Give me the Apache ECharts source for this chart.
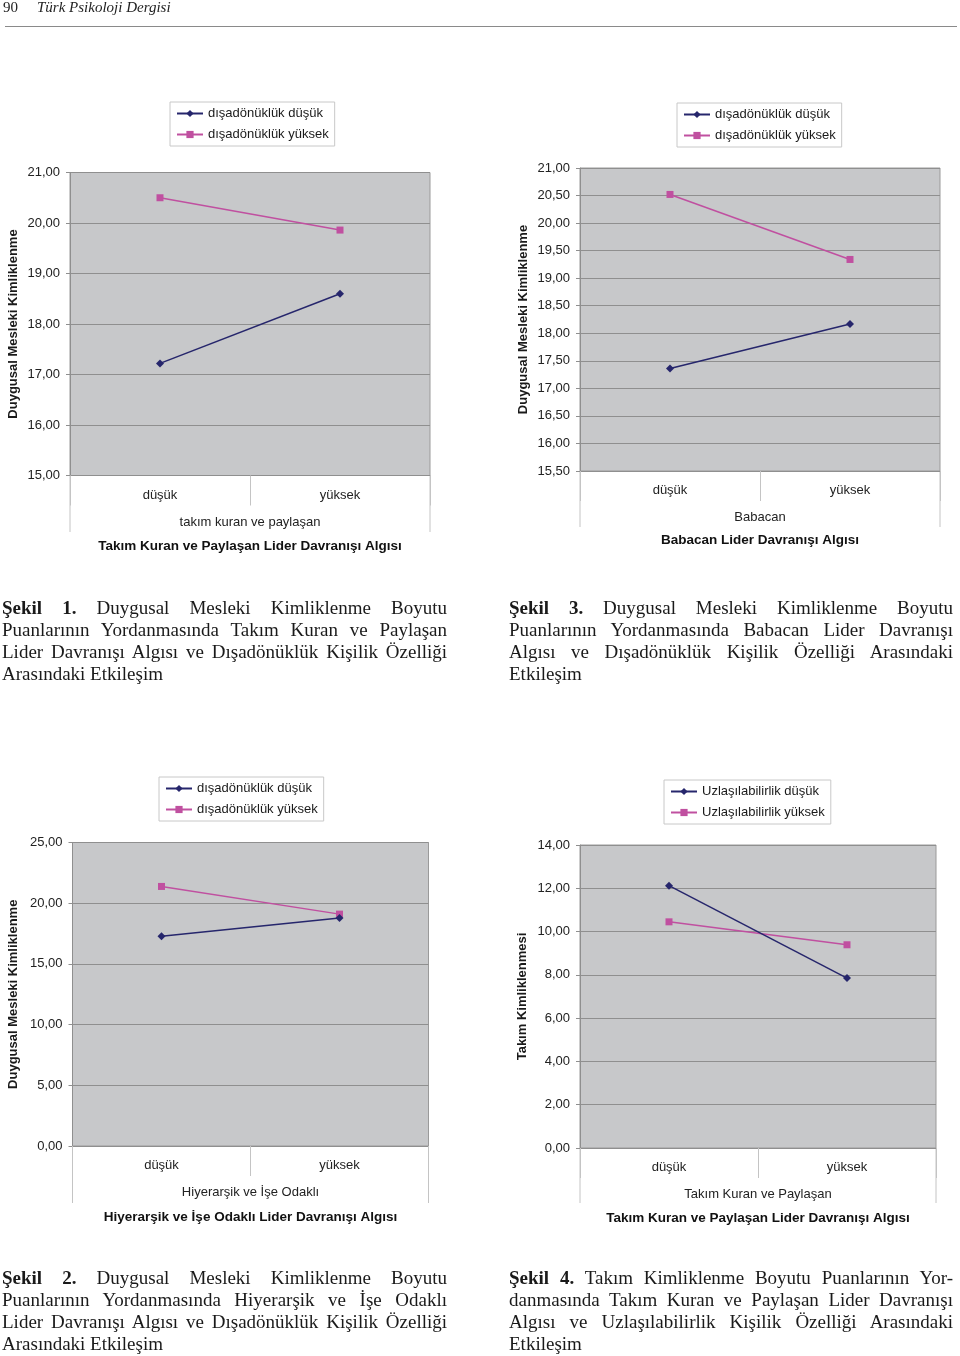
<!DOCTYPE html>
<html>
<head>
<meta charset="utf-8">
<script src="https://cdn.jsdelivr.net/npm/echarts@6/dist/echarts.min.js"></script>
<style>
  html, body { margin: 0; padding: 0; background: #fff; }
  #page { position: relative; width: 960px; height: 1356px; overflow: hidden; }
  #chart { position: absolute; left: 0; top: 0; width: 960px; height: 1356px; }
  .hdr { position: absolute; font-family: "Liberation Serif", "Times New Roman", serif; font-size: 15px; color: #222; top: -1px; }
  .rule { position: absolute; left: 5px; top: 26px; width: 952px; height: 0; border-top: 1.5px solid #8a8a8a; }
  .cap { position: absolute; font-family: "Liberation Serif", "Times New Roman", serif; font-size: 19px; color: #1a1a1a; line-height: 22px; }
  .cap .ln { position: relative; height: 22px; white-space: nowrap; }
  .cap .ln span.t { display: inline-block; white-space: nowrap; transform-origin: 0 50%; }
</style>
</head>
<body>
<div id="page">
  <div id="chart"></div>
  <div class="hdr" style="left:3px">90</div>
  <div class="hdr" style="left:37px;font-style:italic">Türk Psikoloji Dergisi</div>
  <div class="rule"></div>
  <div class="cap" id="cap1" style="left:2px;top:597px;width:445px"></div>
  <div class="cap" id="cap3" style="left:509px;top:597px;width:444px"></div>
  <div class="cap" id="cap2" style="left:2px;top:1267px;width:445px"></div>
  <div class="cap" id="cap4" style="left:509px;top:1267px;width:444px"></div>
</div>
<script>
// ---------- data ----------
const categories = ['düşük', 'yüksek'];

const fig1Names = ['dışadönüklük düşük', 'dışadönüklük yüksek'];
const fig1Low  = [17.22, 18.60];
const fig1High = [20.50, 19.86];
const fig1Y = { min: 15, max: 21, interval: 1 };

const fig3Names = ['dışadönüklük düşük', 'dışadönüklük yüksek'];
const fig3Low  = [17.36, 18.17];
const fig3High = [20.52, 19.34];
const fig3Y = { min: 15.5, max: 21, interval: 0.5 };

const fig2Names = ['dışadönüklük düşük', 'dışadönüklük yüksek'];
const fig2Low  = [17.28, 18.79];
const fig2High = [21.38, 19.10];
const fig2Y = { min: 0, max: 25, interval: 5 };

const fig4Names = ['Uzlaşılabilirlik düşük', 'Uzlaşılabilirlik yüksek'];
const fig4Low  = [12.12, 7.85];
const fig4High = [10.45, 9.39];
const fig4Y = { min: 0, max: 14, interval: 2 };

const yTitles = ['Duygusal Mesleki Kimliklenme', 'Duygusal Mesleki Kimliklenme', 'Duygusal Mesleki Kimliklenme', 'Takım Kimliklenmesi'];
const xSubtitles = ['takım kuran ve paylaşan', 'Babacan', 'Hiyerarşik ve İşe Odaklı', 'Takım Kuran ve Paylaşan'];
const xTitles = ['Takım Kuran ve Paylaşan Lider Davranışı Algısı', 'Babacan Lider Davranışı Algısı', 'Hiyerarşik ve İşe Odaklı Lider Davranışı Algısı', 'Takım Kuran ve Paylaşan Lider Davranışı Algısı'];

const captions = {
  cap1: [['Şekil 1.', ' Duygusal Mesleki Kimliklenme Boyutu'], 'Puanlarının Yordanmasında Takım Kuran ve Paylaşan', 'Lider Davranışı Algısı ve Dışadönüklük Kişilik Özelliği', 'Arasındaki Etkileşim'],
  cap3: [['Şekil 3.', ' Duygusal Mesleki Kimliklenme Boyutu'], 'Puanlarının Yordanmasında Babacan Lider Davranışı', 'Algısı ve Dışadönüklük Kişilik Özelliği Arasındaki', 'Etkileşim'],
  cap2: [['Şekil 2.', ' Duygusal Mesleki Kimliklenme Boyutu'], 'Puanlarının Yordanmasında Hiyerarşik ve İşe Odaklı', 'Lider Davranışı Algısı ve Dışadönüklük Kişilik Özelliği', 'Arasındaki Etkileşim'],
  cap4: [['Şekil 4.', ' Takım Kimliklenme Boyutu Puanlarının Yor-'], 'danmasında Takım Kuran ve Paylaşan Lider Davranışı', 'Algısı ve Uzlaşılabilirlik Kişilik Özelliği Arasındaki', 'Etkileşim']
};

// ---------- layout ----------
const FONT = '"Liberation Sans", Arial, sans-serif';
const BLUE = '#26266c';
const PINK = '#c050a0';
const PLOT_BG = '#c7c8ca';
const GRIDLINE = '#8f8f8f';

const panels = [
  { grid: { left: 70, top: 172.5, width: 360, height: 303 }, y: fig1Y, low: fig1Low, high: fig1High, names: fig1Names,
    legend: { left: 170, top: 102 }, nameGapY: 50, titleY: 546, lineBottom: 532 },
  { grid: { left: 580, top: 168, width: 360, height: 303 }, y: fig3Y, low: fig3Low, high: fig3High, names: fig3Names,
    legend: { left: 677, top: 103 }, nameGapY: 50, titleY: 540, lineBottom: 527 },
  { grid: { left: 72.5, top: 842.5, width: 356, height: 303.5 }, y: fig2Y, low: fig2Low, high: fig2High, names: fig2Names,
    legend: { left: 159, top: 777 }, nameGapY: 53, titleY: 1217, lineBottom: 1203 },
  { grid: { left: 580, top: 845, width: 356, height: 303 }, y: fig4Y, low: fig4Low, high: fig4High, names: fig4Names,
    legend: { left: 664, top: 780 }, nameGapY: 51, titleY: 1218, lineBottom: 1203 }
];

const fmt = v => v.toFixed(2).replace('.', ',');

const option = { animation: false, grid: [], xAxis: [], yAxis: [], series: [], legend: [], graphic: [] };

panels.forEach((p, i) => {
  option.grid.push(Object.assign({ show: true, backgroundColor: PLOT_BG, borderColor: '#9a9a9a', borderWidth: 1, containLabel: false }, p.grid));
  option.xAxis.push({
    type: 'category', gridIndex: i, data: categories, boundaryGap: true,
    axisLine: { show: true, lineStyle: { color: GRIDLINE, width: 1 } },
    axisTick: { show: true, length: 30, interval: 0, alignWithLabel: false, lineStyle: { color: '#c4c4c4' } },
    axisLabel: { margin: 13, fontSize: 13, color: '#222', fontFamily: FONT },
    name: xSubtitles[i], nameLocation: 'middle', nameGap: 40,
    nameTextStyle: { fontSize: 13, color: '#222', fontFamily: FONT },
    splitLine: { show: false }
  });
  option.yAxis.push({
    type: 'value', gridIndex: i, min: p.y.min, max: p.y.max, interval: p.y.interval,
    axisLine: { show: true, lineStyle: { color: GRIDLINE } },
    axisTick: { show: true, length: 4, lineStyle: { color: GRIDLINE } },
    axisLabel: { margin: 10, fontSize: 13, color: '#222', fontFamily: FONT, formatter: fmt },
    splitLine: { show: true, lineStyle: { color: GRIDLINE, width: 1 } },
    name: yTitles[i], nameLocation: 'middle', nameGap: p.nameGapY, nameRotate: 90,
    nameTextStyle: { fontSize: 13, fontWeight: 'bold', color: '#1a1a1a', fontFamily: FONT }
  });
  option.series.push({
    type: 'line', name: p.names[0], xAxisIndex: i, yAxisIndex: i, data: p.low,
    symbol: 'diamond', symbolSize: 8, showSymbol: true,
    lineStyle: { color: BLUE, width: 1.5 }, itemStyle: { color: BLUE }, z: 3
  });
  option.series.push({
    type: 'line', name: p.names[1], xAxisIndex: i, yAxisIndex: i, data: p.high,
    symbol: 'rect', symbolSize: 7, showSymbol: true,
    lineStyle: { color: PINK, width: 1.5 }, itemStyle: { color: PINK }, z: 2
  });
  option.legend.push({
    data: p.names, orient: 'vertical', left: p.legend.left, top: p.legend.top,
    padding: [5, 6, 5, 6], itemGap: 8, itemWidth: 26, itemHeight: 9,
    backgroundColor: '#fff', borderColor: '#c8c8c8', borderWidth: 1,
    textStyle: { fontSize: 13, color: '#1a1a1a', fontFamily: FONT },
    selectedMode: false
  });
  const gx0 = p.grid.left, gx1 = p.grid.left + p.grid.width, gb = p.grid.top + p.grid.height;
  option.graphic.push(
    { type: 'line', shape: { x1: gx0, y1: gb, x2: gx0, y2: p.lineBottom }, style: { stroke: '#c4c4c4', lineWidth: 1 } },
    { type: 'line', shape: { x1: gx1, y1: gb, x2: gx1, y2: p.lineBottom }, style: { stroke: '#c4c4c4', lineWidth: 1 } },
    { type: 'text', x: (gx0 + gx1) / 2, y: p.titleY,
      style: { text: xTitles[i], align: 'center', verticalAlign: 'middle', fontSize: 13.5, fontWeight: 'bold', fontFamily: FONT, fill: '#111' } }
  );
});

const chart = echarts.init(document.getElementById('chart'), null, { renderer: 'canvas' });
chart.setOption(option);

// ---------- captions (justified lines) ----------
Object.keys(captions).forEach(id => {
  const box = document.getElementById(id);
  const W = parseFloat(box.style.width);
  const lines = captions[id];
  lines.forEach((ln, k) => {
    const d = document.createElement('div');
    d.className = 'ln';
    const s = document.createElement('span');
    s.className = 't';
    if (Array.isArray(ln)) {
      const b = document.createElement('b');
      b.textContent = ln[0];
      s.appendChild(b);
      s.appendChild(document.createTextNode(ln[1]));
    } else {
      s.textContent = ln;
    }
    d.appendChild(s);
    box.appendChild(d);
    const last = k === lines.length - 1;
    const w = s.getBoundingClientRect().width;
    const txt = s.textContent;
    const spaces = (txt.match(/ /g) || []).length;
    if (w > W) {
      s.style.transform = 'scaleX(' + (W / w) + ')';
    } else if (!last && spaces > 0) {
      s.style.wordSpacing = ((W - w) / spaces) + 'px';
    }
  });
});
</script>
</body>
</html>
